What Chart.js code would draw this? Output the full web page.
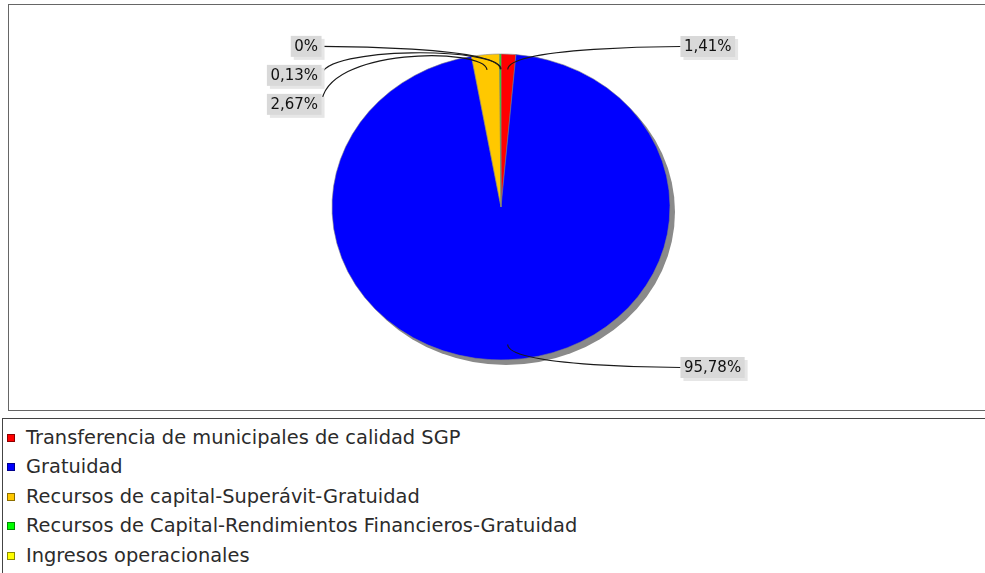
<!DOCTYPE html>
<html>
<head>
<meta charset="utf-8">
<script src="https://cdn.jsdelivr.net/npm/chart.js@4"></script>
<style>
body { margin: 0; background: #fff; font-family: "DejaVu Sans", sans-serif; overflow: hidden; }
#marco { position: absolute; left: 8px; top: 4px; width: 990px; height: 405px; border: 1px solid #666; }
#lienzo { position: absolute; left: 0; top: 0; }
#leyenda { position: absolute; left: 2px; top: 418px; width: 1000px; height: 170px; border: 1px solid #444; }
.item { position: absolute; left: 0; height: 22px; line-height: 22px; font-size: 19.4px; color: #2b2b2b; white-space: nowrap; }
.item .caja { position: absolute; left: 4px; top: 7px; width: 6px; height: 6px; border: 1px solid rgba(0,0,0,0.45); }
.item .texto { position: absolute; left: 23px; top: 0; }
</style>
</head>
<body>
<div id="marco"></div>
<canvas id="lienzo" width="985" height="412"></canvas>
<div id="leyenda"></div>
<script>
const categorias = [
    'Transferencia de municipales de calidad SGP',
    'Gratuidad',
    'Recursos de capital-Superávit-Gratuidad',
    'Recursos de Capital-Rendimientos Financieros-Gratuidad',
    'Ingresos operacionales'
];
const porcentajes = [1.41, 95.78, 2.67, 0.13, 0];
const colores = ['#ff0000', '#0000ff', '#ffc800', '#00ff00', '#ffff00'];

// la torta de origen es una elipse: se achata en vertical
const escalaY = 153 / 169;
const profundidad = 0.9;
const margenEnlace = 1.05;
const separacion = 2;
const altoEtiqueta = 21;
const pasoEtiqueta = 29;

function formato(valor) {
    return String(valor).replace('.', ',') + '%';
}

function dibujarEtiquetas(chart) {
    const ctx = chart.ctx;
    const arcos = chart.getDatasetMeta(0).data;
    const izquierda = [];
    const derecha = [];

    arcos.forEach((arco, i) => {
        const medio = (arco.startAngle + arco.endAngle) / 2;
        const rx = arco.outerRadius;
        const ry = rx * escalaY;
        const reg = {
            texto: formato(porcentajes[i]),
            cx: arco.x,
            rx: rx,
            enlaceX: arco.x + Math.cos(medio) * rx * profundidad,
            enlaceY: arco.y + Math.sin(medio) * ry * profundidad,
            codoX: arco.x + Math.cos(medio) * rx * margenEnlace,
            codoY: arco.y + Math.sin(medio) * ry * margenEnlace
        };
        reg.y = reg.codoY;
        (medio + Math.PI / 2 < Math.PI ? derecha : izquierda).push(reg);
    });

    [izquierda, derecha].forEach((lado, l) => {
        lado.sort((a, b) => a.codoY - b.codoY);
        for (let i = 1; i < lado.length; i++) {
            lado[i].y = Math.max(lado[i].y, lado[i - 1].y + pasoEtiqueta);
        }
        lado.forEach(reg => {
            const anclaX = l === 0 ? reg.cx - reg.rx * margenEnlace : reg.cx + reg.rx * margenEnlace;
            const objetivoX = l === 0 ? anclaX - separacion : anclaX + separacion;

            ctx.save();
            ctx.strokeStyle = '#1a1a1a';
            ctx.lineWidth = 1.2;
            ctx.beginPath();
            ctx.moveTo(objetivoX, reg.y);
            ctx.bezierCurveTo(anclaX, reg.codoY, reg.codoX, reg.codoY, reg.enlaceX, reg.enlaceY);
            ctx.stroke();

            ctx.font = '15px "DejaVu Sans"';
            const ancho = ctx.measureText(reg.texto).width + 7;
            const cajaX = l === 0 ? objetivoX - ancho : objetivoX;
            const cajaY = reg.y - altoEtiqueta / 2;
            ctx.fillStyle = '#e6e6e6';
            ctx.fillRect(cajaX + 3, cajaY + 3, ancho, altoEtiqueta);
            ctx.fillStyle = '#d9d9d9';
            ctx.fillRect(cajaX, cajaY, ancho, altoEtiqueta);
            ctx.fillStyle = '#111';
            ctx.textBaseline = 'middle';
            ctx.textAlign = 'center';
            ctx.fillText(reg.texto, cajaX + ancho / 2, reg.y + 1);
            ctx.restore();
        });
    });
}

const elipse = {
    id: 'elipse',
    beforeDatasetsDraw(chart) {
        const arco = chart.getDatasetMeta(0).data[0];
        const ctx = chart.ctx;
        const { x, y, outerRadius } = arco;
        ctx.save();
        ctx.fillStyle = '#8a8a8a';
        ctx.beginPath();
        ctx.ellipse(x + 5, y + 5, outerRadius, outerRadius * escalaY, 0, 0, Math.PI * 2);
        ctx.fill();
        ctx.restore();
        ctx.save();
        ctx.translate(x, y);
        ctx.scale(1, escalaY);
        ctx.translate(-x, -y);
    },
    afterDatasetsDraw(chart) {
        chart.ctx.restore();
        dibujarEtiquetas(chart);
    }
};

new Chart(document.getElementById('lienzo').getContext('2d'), {
    type: 'pie',
    data: {
        labels: categorias,
        datasets: [{
            data: porcentajes,
            backgroundColor: colores,
            borderColor: '#808080',
            borderWidth: 0.6,
            radius: 169
        }]
    },
    options: {
        responsive: false,
        animation: false,
        devicePixelRatio: 1,
        layout: { padding: { left: 332, right: 315, top: 38, bottom: 36 } },
        plugins: {
            legend: { display: false },
            tooltip: { enabled: false },
            title: { display: false }
        }
    },
    plugins: [elipse]
});

const leyenda = document.getElementById('leyenda');
categorias.forEach((nombre, i) => {
    const item = document.createElement('div');
    item.className = 'item';
    item.style.top = (7.5 + 29.5 * i) + 'px';
    item.innerHTML = `<span class="caja" style="background:${colores[i]}"></span><span class="texto">${nombre}</span>`;
    leyenda.appendChild(item);
});
</script>
</body>
</html>
